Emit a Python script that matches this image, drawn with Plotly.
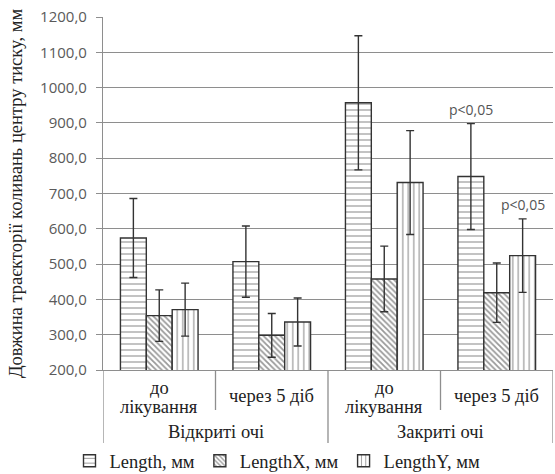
import plotly.graph_objects as go

# Inner-level categories (two lines for the "before treatment" entries)
categories = [["до", "лікування"], ["через 5 діб"], ["до", "лікування"], ["через 5 діб"]]
groups = ["Відкриті очі", "Закриті очі"]

# Mean trajectory length and standard deviation, mm
length = [574, 507, 957, 748]
length_sd = [112, 101, 190, 150]
length_x = [354, 298, 458, 419]
length_x_sd = [73, 62, 93, 84]
length_y = [371, 336, 731, 524]
length_y_sd = [75, 68, 147, 104]

series_names = ["Length, мм", "LengthX, мм", "LengthY, мм"]
patterns = [("-", 6, 0.2), ("\\", 4, 0.45), ("|", 5.5, 0.22)]

# Significance labels above error bars: (category index, bar offset, top value)
sig_marks = [(3, -0.23, length[3] + length_sd[3]),
             (3, 0.23, length_y[3] + length_y_sd[3])]

INK = "#333333"
GRID = "#8e8e8e"
SERIF = "Liberation Serif"
SANS = "Open Sans"
TXT = 18.5

H_PLOT = 353.0  # plot-area height in px, used to place labels below the axis


def below(px):
    """Paper y for a point px pixels below the plot's bottom edge."""
    return -px / H_PLOT


fig = go.Figure()
x_idx = list(range(len(categories)))
for name, vals, sds, (pat, psize, psol) in zip(series_names,
                                               [length, length_x, length_y],
                                               [length_sd, length_x_sd, length_y_sd],
                                               patterns):
    fig.add_trace(go.Bar(
        x=x_idx, y=vals, name=name,
        marker=dict(color="white",
                    line=dict(color=INK, width=1.4),
                    pattern=dict(shape=pat, fgcolor=INK, bgcolor="white",
                                 size=psize, solidity=psol)),
        error_y=dict(type="data", array=sds, visible=True,
                     color=INK, thickness=1.4, width=4),
    ))

for ci, dx, top in sig_marks:
    fig.add_annotation(x=ci + dx, y=top, text="p<0,05", showarrow=False,
                       yanchor="bottom", yshift=3,
                       font=dict(family=SANS, size=14, color="#555"))

# Inner category labels
for i, lines in enumerate(categories):
    if len(lines) == 2:
        offsets = [18, 37]
    else:
        offsets = [26]
    for line, off in zip(lines, offsets):
        fig.add_annotation(x=i, y=below(off), yref="paper", xref="x", text=line,
                           showarrow=False, yanchor="middle",
                           font=dict(family=SERIF, size=TXT, color="#222"))
# Outer group labels
for gi, g in enumerate(groups):
    fig.add_annotation(x=gi * 2 + 0.5, y=below(62), yref="paper", xref="x", text=g,
                       showarrow=False, yanchor="middle",
                       font=dict(family=SERIF, size=TXT, color="#222"))

# Divider lines below the plot: short between inner categories, long between groups
for xb, depth in [(-0.5, 73), (0.5, 40), (1.5, 73), (2.5, 40), (3.5, 73)]:
    fig.add_shape(type="line", xref="x", yref="paper", x0=xb, x1=xb, y0=0, y1=below(depth),
                  line=dict(color=GRID, width=1.3))

fig.update_layout(
    width=555, height=474,
    margin=dict(l=103, r=2, t=17, b=104, autoexpand=False),
    paper_bgcolor="white", plot_bgcolor="white",
    barmode="group", bargap=0.31, bargroupgap=0,
    separators=",.",
    showlegend=True,
    font=dict(family=SERIF),
    legend=dict(orientation="h", xref="container", yref="container",
                x=0.5, xanchor="center", y=0.027, yanchor="middle",
                font=dict(family=SERIF, size=TXT, color="#222"),
                itemwidth=30, tracegroupgap=0, bgcolor="rgba(0,0,0,0)"),
    xaxis=dict(range=[-0.5, 3.5], showticklabels=False, ticks="",
               showgrid=False, showline=True, linecolor=GRID, linewidth=1.3,
               zeroline=False, fixedrange=True),
    yaxis=dict(range=[200, 1200], dtick=100, tickformat=".1f",
               showgrid=True, gridcolor=GRID, gridwidth=1.3,
               showline=True, linecolor=GRID, linewidth=1.3, zeroline=False,
               ticks="outside", ticklen=6, tickcolor=GRID, ticklabelstandoff=6,
               tickfont=dict(family=SANS, size=15, color="#5a5a5a"),
               automargin=False,
               title=dict(text="Довжина траєкторії коливань центру тиску, мм",
                          font=dict(family=SERIF, size=TXT, color="#222"),
                          standoff=12)),
)

fig.write_html("out.html")
